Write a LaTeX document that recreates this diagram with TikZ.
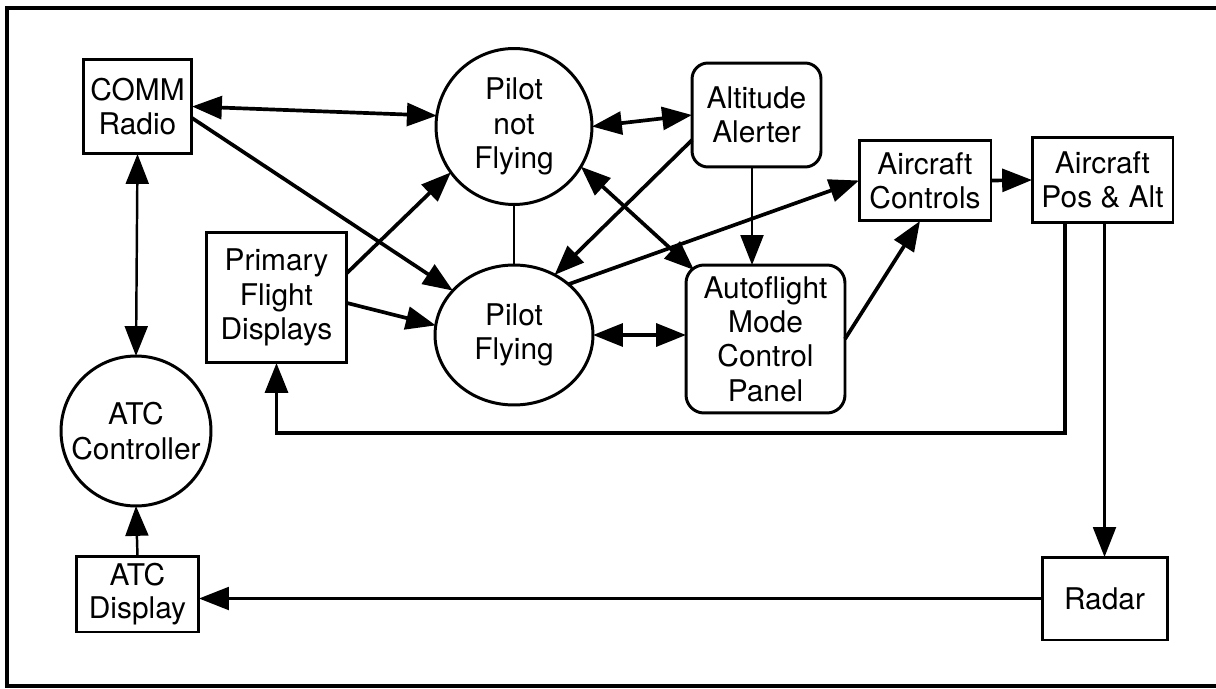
\documentclass[tikz,border=0pt]{standalone}
\usepackage{fontspec}
\setmainfont{TeX Gyre Heros}
\usetikzlibrary{positioning,arrows.meta,shapes.geometric}

\begin{document}
\begin{tikzpicture}[x=0.02cm,y=-0.02cm,font=\fontsize{17}{19.5}\selectfont,>={Triangle[length=17pt,width=13pt]}]

		\useasboundingbox (0,0) rectangle (1216,689);

		\tikzset{
			flowBox/.style={
				draw,
				line width=1.7pt,
				fill=white,
				align=center,
				inner sep=0,
				outer sep=0pt,
			},
			flowRound/.style={
				flowBox,
				rounded corners=0.36cm,
			},
			thickLink/.style={line width=2.1pt},
			thinLink/.style={line width=1.4pt},
		}

		% Frame
		\draw[line width=1.8pt] (1216,8) -- (7,8) -- (7,686) -- (1216,686);

		% Left column
		\node[flowBox,circle,minimum size=3.0cm] (atcCtrl) at (136,431) {ATC\\Controller};
		\node[flowBox,minimum width=2.18cm,minimum height=1.9cm] (comm) at (137.5,106.5) {COMM\\Radio};
		\node[flowBox,minimum width=2.46cm,minimum height=1.52cm] (atcDisp) at (137.5,594) {ATC\\[-1pt]Display};

		% Displays
		\node[flowBox,minimum width=2.82cm,minimum height=2.62cm] (pfd) at (276.5,297.5) {Primary\\Flight\\Displays};

		% Crew
		\node[flowBox,circle,minimum size=3.12cm] (pnf) at (514,126.5) {Pilot\\not\\Flying};
		\node[flowBox,ellipse,minimum width=3.16cm,minimum height=2.8cm] (pf) at (514,335) {Pilot\\Flying};

		% Automation
		\node[flowBox,rounded corners=0.32cm,minimum width=2.58cm,minimum height=2.08cm] (alt) at (756.5,115) {Altitude\\Alerter};
		\node[flowRound,minimum width=3.18cm,minimum height=2.96cm] (afmcp) at (765.5,339) {Autoflight\\Mode\\Control\\Panel};

		% Aircraft
		\node[flowBox,minimum width=2.64cm,minimum height=1.62cm] (acCtl) at (925,180.5) {Aircraft\\Controls};
		\node[flowBox,minimum width=2.82cm,minimum height=1.72cm] (posAlt) at (1102.5,180) {Aircraft\\Pos \& Alt};
		\node[flowBox,minimum width=2.5cm,minimum height=1.66cm] (radar) at (1104.5,598.5) {Radar};

		\coordinate (feedBend) at (276.5,433);

		% Links
		\draw[thickLink,<->] (comm.east) -- (pnf.172);
		\draw[thickLink,->] ([yshift=-0.23cm]comm.east) -- (pf.144);
		\draw[thinLink,<->] (comm.south) -- (atcCtrl.north);
		\draw[thinLink,->] (atcDisp.north) -- (atcCtrl.south);
		\draw[thinLink,->] (radar.west) -- (radar.west -| atcDisp.east);
		\draw[thinLink,->] (radar.north |- posAlt.south) -- (radar.north);
		\draw[thickLink,->] ([xshift=-0.75cm]posAlt.south) |- (feedBend) -- (pfd.south);
		\draw[thickLink,->] (acCtl.east) -- (posAlt.west);
		\draw[thickLink,->] (afmcp.east) -- ([xshift=-0.1cm]acCtl.south);
		\draw[thickLink,->] (pf.43) -- (acCtl.west);
		\draw[thickLink,->] ([yshift=-0.5cm]alt.west) -- (pf.56);
		\draw[thinLink,->] ([xshift=-0.09cm]alt.south) -- ([xshift=-0.09cm]alt.south |- afmcp.north);
		\draw[thickLink,<->] (pnf.east) -- (alt.west);
		\draw[thickLink,<->] (pnf.-31) -- ([shift={(0.16cm,-0.1cm)}]afmcp.north west);
		\draw[thinLink] (pnf.south) -- (pf.north);
		\draw[thickLink,<->] (pf.east) -- (pf.east -| afmcp.west);
		\draw[thickLink,->] ([yshift=0.49cm]pfd.east) -- (pnf.216);
		\draw[thickLink,->] ([yshift=-0.11cm]pfd.east) -- (pf.173);

	\end{tikzpicture}
\end{document}
